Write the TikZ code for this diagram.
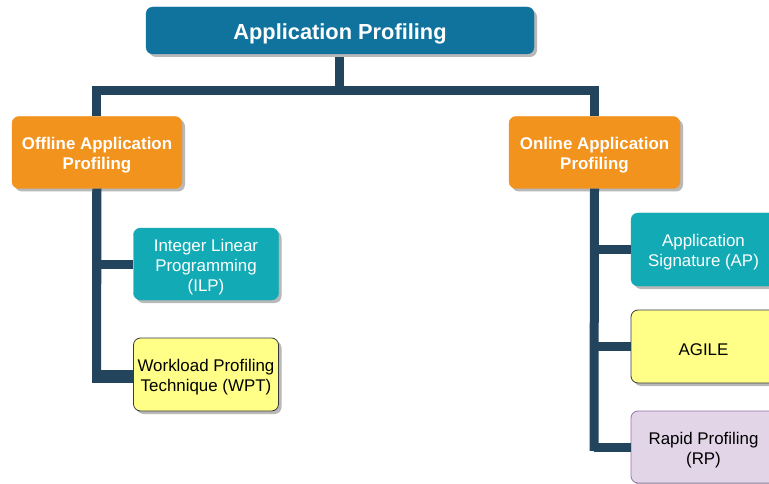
\documentclass[tikz,border=0pt]{standalone}
\usepackage{fontspec}
\setmainfont{Liberation Sans}
\usetikzlibrary{shadows}
\definecolor{topblue}{HTML}{10739E}
\definecolor{orng}{HTML}{F2931E}
\definecolor{teal2}{HTML}{12AAB5}
\definecolor{yel}{HTML}{FFFF88}
\definecolor{yelb}{HTML}{36393D}
\definecolor{purp}{HTML}{E1D5E7}
\definecolor{purpb}{HTML}{9673A6}
\definecolor{navy}{HTML}{23445D}
\tikzset{
  box/.style={rounded corners=7pt, inner sep=0pt,
    drop shadow={shadow xshift=3pt, shadow yshift=-3pt, fill=black!28, opacity=1}},
  txt/.style={inner sep=0pt, align=center, font=\fontsize{16.9}{20}\selectfont},
  toptxt/.style={txt, text=white, font=\fontsize{21.8}{25}\selectfont\bfseries},
  boldtxt/.style={txt, text=white, font=\fontsize{16.9}{20}\selectfont\bfseries},
  whitetxt/.style={txt, text=white},
  blacktxt/.style={txt, text=black},
  topbox/.style={box, fill=topblue, draw=topblue},
  orangebox/.style={box, fill=orng, draw=orng},
  tealbox/.style={box, fill=teal2, draw=teal2},
  yellowbox/.style={box, fill=yel, draw=yelb, line width=0.8pt},
  purplebox/.style={box, fill=purp, draw=purpb, line width=0.8pt},
  conn/.style={draw=navy, line width=9pt, line cap=butt, line join=miter}
}
\begin{document}
\begin{tikzpicture}[x=1pt,y=-1pt]
\useasboundingbox[fill=white] (0,0) rectangle (769,484);
% connectors first
\coordinate (hub) at (339,90.5);
\coordinate (offtop) at (96.5,116.5);
\coordinate (ontop) at (594,116.5);
\draw[conn] (339,54) -- (hub);
\draw[conn] (offtop) |- (hub) -| (ontop);
\draw[conn] (96.5,188) -- (96.5,378) -- (134,378) ;
% boxes
\node[topbox, minimum width=388pt, minimum height=47pt] (top) at (340,30.5) {};
\node[orangebox, minimum width=170pt, minimum height=72pt] (off) at (97,152.5) {};
\node[orangebox, minimum width=171pt, minimum height=72pt] (on) at (594.5,152.5) {};
\node[tealbox, minimum width=145pt, minimum height=72pt] (ilp) at (206,264) {};
\node[yellowbox, minimum width=145pt, minimum height=73pt] (wpt) at (206,374.5) {};
\node[tealbox, minimum width=145pt, minimum height=73pt] (ap) at (703.5,249.5) {};
\node[yellowbox, minimum width=145pt, minimum height=73pt] (agile) at (703.5,346.5) {};
\node[purplebox, minimum width=145pt, minimum height=72pt] (rp) at (703.5,447) {};
% texts
\node[toptxt] (topt) at ([yshift=-3pt]top.center) {Application Profiling};
\node[boldtxt] (offt) at ([yshift=-3pt]off.center) {Offline Application\\Profiling};
\node[boldtxt] (ont) at ([yshift=-3pt]on.center) {Online Application\\Profiling};
\node[whitetxt] (ilpt) at ([yshift=-3pt]ilp.center) {Integer Linear\\Programming\\(ILP)};
\node[blacktxt] (wptt) at ([yshift=-3pt]wpt.center) {Workload Profiling\\Technique (WPT)};
\node[whitetxt] (apt) at ([yshift=-3pt]ap.center) {Application\\Signature (AP)};
\node[blacktxt] (agilet) at ([yshift=-3pt]agile.center) {AGILE};
\node[blacktxt] (rpt) at ([yshift=-3pt]rp.center) {Rapid Profiling\\(RP)};
% branch connectors
\draw[conn] (off.south) -- (96.5,378);
\draw[conn] (ilp.west) -- (ilp.west -| offtop);
\draw[conn] (wpt.west) -- (wpt.west -| offtop);
\draw[conn] (on.south) -- (594,451);
\draw[conn] (ap.west) -- (ap.west -| ontop);
\draw[conn] (agile.west) -- (agile.west -| ontop);
\draw[conn] (rp.west) -- (rp.west -| ontop);
\end{tikzpicture}
\end{document}
